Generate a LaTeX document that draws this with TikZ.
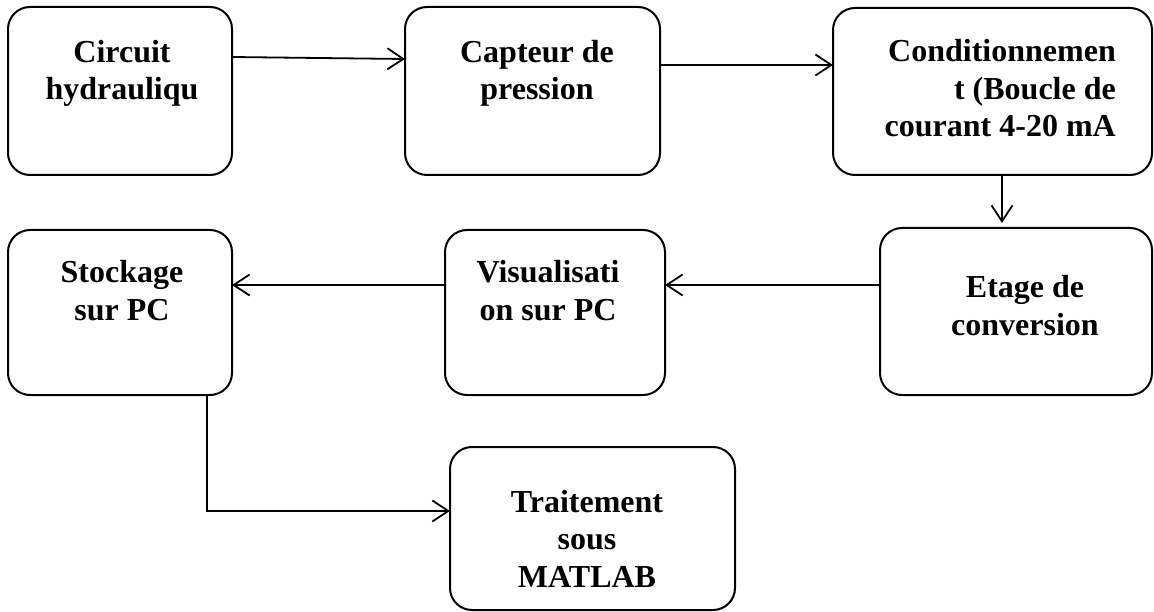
\documentclass[tikz,border=0pt]{standalone}
\usepackage{fontspec}
\setmainfont{Liberation Serif}
\usetikzlibrary{arrows.meta}
\begin{document}
\begin{tikzpicture}[x=1pt,y=-1pt,
  box/.style={draw=black, line width=2pt, rounded corners=22pt, inner sep=0pt, outer sep=0pt},
  txt/.style={font=\bfseries\fontsize{32}{37.5}\selectfont, inner sep=0pt, align=center, anchor=base},
  arr/.style={draw=black, line width=1.8pt, -{Straight Barb[length=16pt,width=21pt]}}]
\useasboundingbox (0,0) rectangle (1154,612);
% boxes
\node[box, minimum width=224pt, minimum height=168pt] (b1) at (120,91) {};
\node[box, minimum width=255pt, minimum height=168pt] (b2) at (532.5,91) {};
\node[box, minimum width=319pt, minimum height=167pt] (b3) at (992.5,91.5) {};
\node[box, minimum width=272pt, minimum height=167pt] (b4) at (1016,311.5) {};
\node[box, minimum width=220pt, minimum height=165pt] (b5) at (555,312.5) {};
\node[box, minimum width=224pt, minimum height=165pt] (b6) at (120,312.5) {};
\node[box, minimum width=285pt, minimum height=163pt] (b7) at (592.5,528.5) {};
% texts (anchored at the baseline of their last line)
\node[txt] (t1) at (122,100) {Circuit\\hydrauliqu};
\node[txt] (t2) at (537,100) {Capteur de\\pression};
\node[txt, align=right, anchor=base east] (t3) at (1116,137) {Conditionnemen\\t (Boucle de\\courant 4-20 mA};
\node[txt] (t4) at (1025,335) {Etage de\\conversion};
\node[txt] (t5) at (548,320) {Visualisati\\on sur PC};
\node[txt] (t6) at (122,320) {Stockage\\sur PC};
\node[txt] (t7) at (587,587) {Traitement\\sous\\MATLAB};
% connectors
\draw[arr] (b1.east |- 0,57) -- (b2.west |- 0,59);
\draw[arr] (b2.east |- 0,65) -- (b3.west |- 0,65);
\draw[arr, shorten >=5pt] (b3.south -| 1002,0) -- (b4.north -| 1002,0);
\draw[arr] (b4.west |- 0,285) -- (b5.east |- 0,285);
\draw[arr] (b5.west |- 0,285) -- (b6.east |- 0,285);
\coordinate (c1) at (180,395);
\draw[arr] (c1) -- (b6.south -| 207,0) -- (207,511) -- (b7.west |- 0,511);
\end{tikzpicture}
\end{document}
